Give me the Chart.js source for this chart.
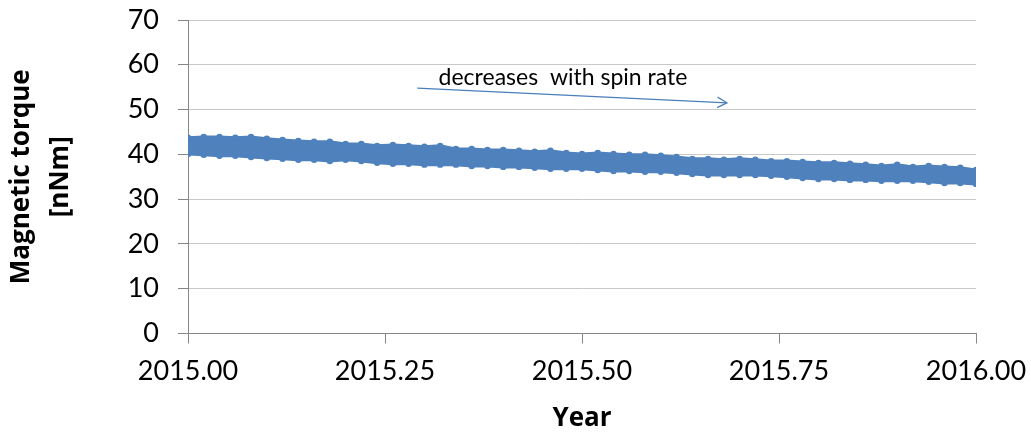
<!DOCTYPE html>
<html>
<head>
<meta charset="utf-8">
<script src="https://cdn.jsdelivr.net/npm/chart.js@4.4.1/dist/chart.umd.min.js"></script>
<style>
    html, body { margin: 0; padding: 0; background: #ffffff; }
    .chart-box { width: 1031px; height: 432px; position: relative; }
</style>
</head>
<body>
<div class="chart-box">
    <canvas id="torqueChart"></canvas>
</div>

<script>
    // Sample years (x) along the band
    const years = [
        2015.00, 2015.02, 2015.04, 2015.06, 2015.08, 2015.10, 2015.12, 2015.14, 2015.16, 2015.18,
        2015.20, 2015.22, 2015.24, 2015.26, 2015.28, 2015.30, 2015.32, 2015.34, 2015.36, 2015.38,
        2015.40, 2015.42, 2015.44, 2015.46, 2015.48, 2015.50, 2015.52, 2015.54, 2015.56, 2015.58,
        2015.60, 2015.62, 2015.64, 2015.66, 2015.68, 2015.70, 2015.72, 2015.74, 2015.76, 2015.78,
        2015.80, 2015.82, 2015.84, 2015.86, 2015.88, 2015.90, 2015.92, 2015.94, 2015.96, 2015.98,
        2016.00
    ];

    // Upper edge of the noisy torque band (nNm)
    const upperEdge = [
        43.7, 43.9, 43.9, 43.7, 43.9, 43.5, 43.2, 43.0, 42.8, 42.8,
        42.3, 42.3, 41.9, 42.1, 41.9, 41.7, 41.9, 41.2, 41.2, 41.0,
        41.0, 40.8, 40.6, 40.8, 40.3, 40.1, 40.3, 40.1, 39.9, 39.9,
        39.7, 39.4, 39.0, 39.0, 38.8, 39.0, 38.8, 38.5, 38.5, 38.3,
        38.1, 38.1, 37.9, 37.7, 37.4, 37.7, 37.2, 37.4, 37.2, 37.0,
        36.5
    ];

    // Lower edge of the band (nNm)
    const lowerEdge = [
        40.1, 39.9, 39.7, 39.7, 39.4, 39.2, 39.0, 38.8, 38.8, 38.5,
        38.8, 38.5, 38.1, 37.9, 37.9, 37.7, 37.7, 37.7, 37.4, 37.4,
        37.2, 37.2, 37.0, 36.8, 36.8, 36.8, 36.5, 36.3, 36.3, 36.1,
        36.1, 35.9, 35.6, 35.4, 35.4, 35.4, 35.4, 35.2, 35.0, 34.7,
        34.5, 34.5, 34.3, 34.3, 34.1, 34.1, 34.1, 33.9, 33.6, 33.6,
        33.4
    ];

    const bandColor = '#4f81bd';
    const fontFamily = 'Lato, "Open Sans", sans-serif';
    const titleFamily = '"Open Sans", Lato, sans-serif';

    // Annotation: arrow and text (data coordinates)
    const arrowFrom = { x: 2015.291, y: 54.8 };
    const arrowTo = { x: 2015.684, y: 51.5 };
    const noteText = 'decreases  with spin rate';
    const notePos = { x: 2015.318, y: 57.1 };

    const arrowPlugin = {
        id: 'arrowNote',
        afterDatasetsDraw(chart) {
            const { ctx, scales } = chart;
            const x1 = scales.x.getPixelForValue(arrowFrom.x);
            const y1 = scales.y.getPixelForValue(arrowFrom.y);
            const x2 = scales.x.getPixelForValue(arrowTo.x);
            const y2 = scales.y.getPixelForValue(arrowTo.y);
            const ang = Math.atan2(y2 - y1, x2 - x1);
            const head = 11;

            ctx.save();
            ctx.strokeStyle = '#4a7ebb';
            ctx.lineWidth = 1.2;
            ctx.beginPath();
            ctx.moveTo(x1, y1);
            ctx.lineTo(x2, y2);
            ctx.moveTo(x2 - head * Math.cos(ang - 0.5), y2 - head * Math.sin(ang - 0.5));
            ctx.lineTo(x2, y2);
            ctx.lineTo(x2 - head * Math.cos(ang + 0.5), y2 - head * Math.sin(ang + 0.5));
            ctx.stroke();

            ctx.fillStyle = '#000000';
            ctx.font = '23px ' + fontFamily;
            ctx.textBaseline = 'middle';
            ctx.textAlign = 'left';
            ctx.fillText(noteText, scales.x.getPixelForValue(notePos.x), scales.y.getPixelForValue(notePos.y));
            ctx.restore();
        }
    };

    const ctx = document.getElementById('torqueChart').getContext('2d');
    const torqueChart = new Chart(ctx, {
        type: 'line',
        data: {
            datasets: [{
                label: 'upper',
                data: years.map((x, i) => ({ x: x, y: upperEdge[i] })),
                borderColor: bandColor,
                backgroundColor: bandColor,
                borderWidth: 3,
                pointRadius: 3.2,
                pointBorderWidth: 0,
                pointBackgroundColor: bandColor,
                fill: '+1'
            }, {
                label: 'lower',
                data: years.map((x, i) => ({ x: x, y: lowerEdge[i] })),
                borderColor: bandColor,
                backgroundColor: bandColor,
                borderWidth: 3,
                pointRadius: 3.2,
                pointBorderWidth: 0,
                pointBackgroundColor: bandColor,
                fill: false
            }]
        },
        options: {
            responsive: true,
            maintainAspectRatio: false,
            animation: false,
            layout: {
                padding: { top: 20, right: 55, bottom: 0, left: 0 }
            },
            plugins: {
                legend: { display: false },
                tooltip: { enabled: false }
            },
            scales: {
                x: {
                    type: 'linear',
                    min: 2015,
                    max: 2016,
                    afterFit: (scale) => {
                        scale.height = 98.5;
                        scale.paddingLeft = 0;
                        scale.paddingRight = 0;
                    },
                    ticks: {
                        stepSize: 0.25,
                        padding: 12,
                        color: '#000000',
                        font: { family: fontFamily, size: 27 },
                        maxRotation: 0,
                        callback: (v) => v.toFixed(2)
                    },
                    grid: {
                        drawOnChartArea: false,
                        tickLength: 10,
                        color: '#868686'
                    },
                    border: { color: '#868686', width: 1 },
                    title: {
                        display: true,
                        text: 'Year',
                        color: '#000000',
                        font: { family: titleFamily, size: 26, weight: 'bold', lineHeight: 1.05 },
                        padding: { top: 0, bottom: 0 }
                    }
                },
                y: {
                    min: 0,
                    max: 70,
                    afterFit: (scale) => {
                        scale.width = 188;
                        scale.paddingTop = 0;
                        scale.paddingBottom = 0;
                    },
                    ticks: {
                        stepSize: 10,
                        padding: 19,
                        color: '#000000',
                        font: { family: fontFamily, size: 27 }
                    },
                    grid: {
                        color: '#c8c8c8',
                        tickColor: '#868686',
                        tickLength: 10
                    },
                    border: { color: '#868686', width: 1 },
                    title: {
                        display: true,
                        text: ['Magnetic torque', '[nNm]'],
                        color: '#000000',
                        font: { family: titleFamily, size: 26, weight: 'bold', lineHeight: 1.5 },
                        padding: { top: 2, bottom: 0 }
                    }
                }
            }
        },
        plugins: [arrowPlugin]
    });
</script>
</body>
</html>
